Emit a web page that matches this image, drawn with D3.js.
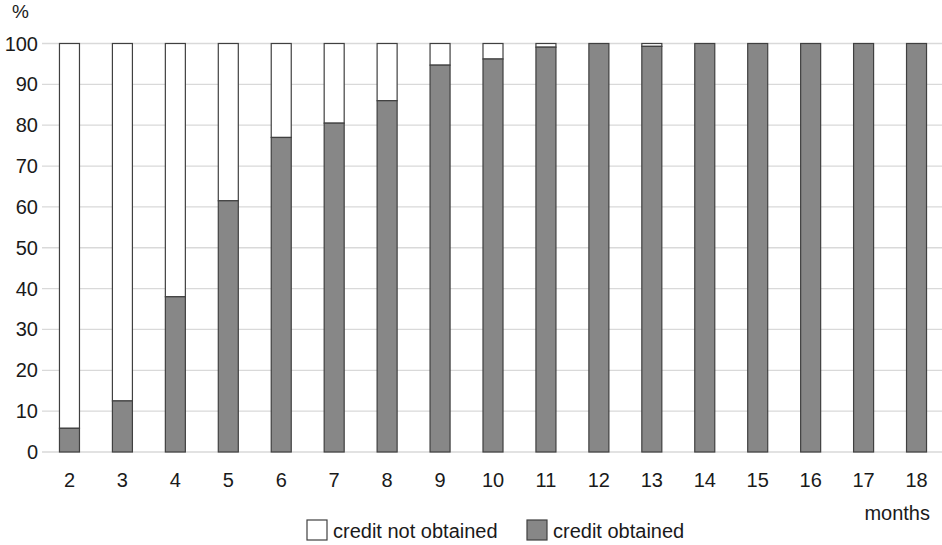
<!DOCTYPE html>
<html><head><meta charset="utf-8">
<script src="https://cdn.jsdelivr.net/npm/d3@7"></script>
<style>body{margin:0;background:#fff}svg{display:block}text{font-family:"Liberation Sans",Arial,sans-serif;fill:#1a1a1a}</style>
</head><body><svg id="c" width="942" height="545"></svg>
<script>
const months = ["2","3","4","5","6","7","8","9","10","11","12","13","14","15","16","17","18"];
const obtained = [5.8,12.5,38,61.5,77,80.5,86,94.7,96.2,99.1,100,99.3,100,100,100,100,100];
const notObtained = obtained.map(v => 100 - v);
const yTicks = [0,10,20,30,40,50,60,70,80,90,100];
const seriesNames = ["credit not obtained","credit obtained"];
const colors = ["#ffffff","#878787"];

const svg = d3.select("#c");
const x = d3.scaleBand().domain(months).range([43,943]).paddingInner(0.622).paddingOuter(0.311);
const y = d3.scaleLinear().domain([0,100]).range([452,43.5]);

// gridlines
svg.append("g").selectAll("line").data(yTicks).join("line")
  .attr("x1",42).attr("x2",942).attr("y1",d=>y(d)).attr("y2",d=>y(d))
  .attr("stroke","#d9d9d9").attr("stroke-width",1.3);

// y labels
svg.append("g").selectAll("text").data(yTicks).join("text")
  .attr("x",38).attr("y",d=>y(d)+7).attr("text-anchor","end")
  .attr("font-size",20).text(d=>d);
svg.append("text").attr("x",12).attr("y",18).attr("font-size",19).text("%");

// bars
const data = months.map((m,i)=>({m, ob:obtained[i], no:notObtained[i]}));
const g = svg.append("g");
g.selectAll("rect.no").data(data).join("rect").attr("class","no")
  .attr("x",d=>x(d.m)).attr("width",x.bandwidth())
  .attr("y",y(100)).attr("height",d=>y(100-d.no)-y(100))
  .attr("fill",colors[0]).attr("stroke","#404040").attr("stroke-width",1.2);
g.selectAll("rect.ob").data(data).join("rect").attr("class","ob")
  .attr("x",d=>x(d.m)).attr("width",x.bandwidth())
  .attr("y",d=>y(d.ob)).attr("height",d=>y(0)-y(d.ob))
  .attr("fill",colors[1]).attr("stroke","#404040").attr("stroke-width",1.2);

// x labels
svg.append("g").selectAll("text").data(months).join("text")
  .attr("x",d=>x(d)+x.bandwidth()/2).attr("y",487).attr("text-anchor","middle")
  .attr("font-size",20).text(d=>d);
svg.append("text").attr("x",930).attr("y",520).attr("text-anchor","end").attr("font-size",20).text("months");

// legend
const leg = [{x:307,tx:333},{x:527,tx:553}];
seriesNames.forEach((n,i)=>{
  svg.append("rect").attr("x",leg[i].x).attr("y",520).attr("width",20).attr("height",20)
    .attr("fill",colors[i]).attr("stroke","#404040").attr("stroke-width",1.2);
  svg.append("text").attr("x",leg[i].tx).attr("y",538).attr("font-size",20).text(n);
});
</script></body></html>
